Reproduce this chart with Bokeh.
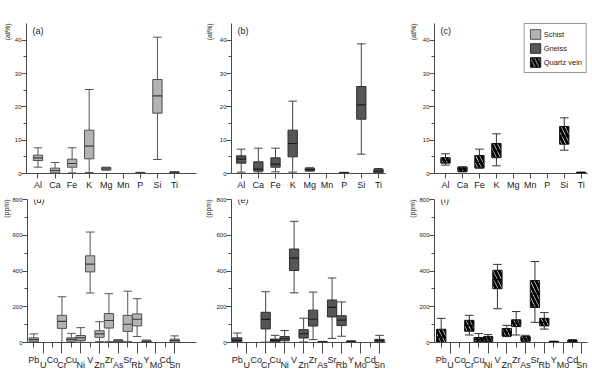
import numpy as np
from bokeh.plotting import figure
from bokeh.layouts import column, row
from bokeh.models import ColumnDataSource, FixedTicker, Label, Legend, LegendItem, Title
from bokeh.embed import file_html
from bokeh.resources import INLINE

nan = np.nan

major_elements = ["Al", "Ca", "Fe", "K", "Mg", "Mn", "P", "Si", "Ti"]
trace_elements = ["Pb", "U", "Co", "Cr", "Cu", "Ni", "V", "Zn", "Zr",
                  "As", "Sr", "Rb", "Y", "Mo", "Cd", "Sn"]

# Major elements (at%): lower whisker, Q1, median, Q3, upper whisker
schist_major_low = [1.9, 0.0, 0.2, 0.3, 1.0, nan, 0.05, 4.2, 0.1]
schist_major_q1 = [3.9, 0.2, 1.9, 4.4, 1.1, nan, 0.1, 18.1, 0.15]
schist_major_med = [4.7, 0.9, 3.0, 8.2, 1.4, nan, 0.2, 23.3, 0.3]
schist_major_q3 = [5.5, 1.6, 4.3, 13.0, 1.8, nan, 0.3, 28.2, 0.5]
schist_major_high = [7.7, 3.3, 7.7, 25.2, 1.9, nan, 0.35, 40.9, 0.6]

gneiss_major_low = [0.4, 0.1, 0.5, 0.4, 0.7, nan, 0.05, 5.8, 0.1]
gneiss_major_q1 = [3.1, 0.7, 1.9, 5.0, 0.8, nan, 0.1, 16.3, 0.2]
gneiss_major_med = [4.3, 1.3, 2.8, 9.0, 1.2, nan, 0.2, 20.6, 0.7]
gneiss_major_q3 = [5.3, 3.5, 4.7, 13.0, 1.6, nan, 0.3, 26.1, 1.3]
gneiss_major_high = [7.3, 7.6, 7.6, 21.7, 1.7, nan, 0.35, 38.9, 1.5]

quartz_major_low = [2.5, 0.5, 1.6, 2.3, nan, nan, nan, 7.0, 0.2]
quartz_major_q1 = [3.1, 0.6, 1.7, 4.75, nan, nan, nan, 8.8, 0.25]
quartz_major_med = [4.0, 1.3, 3.3, 6.8, nan, nan, nan, 11.3, 0.3]
quartz_major_q3 = [4.75, 1.9, 5.4, 9.0, nan, nan, nan, 14.1, 0.35]
quartz_major_high = [5.9, 2.0, 7.3, 11.9, nan, nan, nan, 16.7, 0.4]

# Trace elements (ppm): lower whisker, Q1, median, Q3, upper whisker
schist_trace_low = [1, nan, nan, 0, 0, 2, 277, 5, 5, 1, 5, 33, 0, nan, nan, 0]
schist_trace_q1 = [4, nan, nan, 79, 7, 11, 395, 29, 81, 2, 62, 93, 1, nan, nan, 1]
schist_trace_med = [16, nan, nan, 118, 18, 26, 439, 48, 123, 8, 102, 130, 5, nan, nan, 10]
schist_trace_q3 = [26, nan, nan, 152, 26, 39, 485, 66, 162, 14, 152, 160, 10, nan, nan, 19]
schist_trace_high = [48, nan, nan, 256, 51, 83, 618, 116, 273, 16, 287, 245, 14, nan, nan, 37]

gneiss_trace_low = [0, nan, nan, 2, 0, 0, 278, 3, 16, 0, 23, 35, 0, nan, nan, 0]
gneiss_trace_q1 = [2, nan, nan, 76, 3, 10, 403, 25, 92, 1, 143, 95, 1, nan, nan, 1]
gneiss_trace_med = [12, nan, nan, 129, 12, 21, 472, 49, 130, 3, 197, 125, 4, nan, nan, 10]
gneiss_trace_q3 = [26, nan, nan, 169, 19, 33, 523, 72, 181, 5, 238, 150, 7, nan, nan, 18]
gneiss_trace_high = [53, nan, nan, 284, 40, 67, 678, 136, 282, 6, 361, 227, 10, nan, nan, 40]

quartz_trace_low = [0, nan, nan, 42, 2, 3, 189, 33, 42, 4, 113, 75, 3, nan, 1, nan]
quartz_trace_q1 = [1, nan, nan, 63, 5, 5, 301, 36, 89, 7, 196, 93, 4, nan, 2, nan]
quartz_trace_med = [30, nan, nan, 95, 17, 20, 352, 60, 108, 20, 270, 112, 5, nan, 8, nan]
quartz_trace_q3 = [74, nan, nan, 124, 28, 33, 404, 78, 127, 33, 347, 135, 6, nan, 13, nan]
quartz_trace_high = [135, nan, nan, 152, 50, 44, 437, 96, 173, 40, 453, 167, 7, nan, 16, nan]

FONT = "Liberation Sans"
TEXT = "#222222"
AXIS = "#4a4a4a"

schist_style = dict(fill="#b3b3b3", line="#505050", median="#3a3a3a", whisker="#555555", hatch=None)
gneiss_style = dict(fill="#575757", line="#2e2e2e", median="#1a1a1a", whisker="#444444", hatch=None)
quartz_style = dict(fill="white", line="#111111", median="#000000", whisker="#333333", hatch="\\")

HATCH = dict(hatch_color="black", hatch_weight=3, hatch_scale=8)


def box_panel(cats, stats, style, ylim, yticks, yminor, xlim, box_w,
              size, borders, tag, unit, unit_standoff, stagger):
    w, h = size
    left, right, top, bottom = borders
    p = figure(width=w, height=h, x_range=xlim, y_range=ylim,
               output_backend="svg", toolbar_location=None, tools="",
               min_border_left=left, min_border_right=right,
               min_border_top=top, min_border_bottom=bottom)
    p.outline_line_color = None
    p.grid.visible = False

    x = np.arange(len(cats), dtype=float)
    low, q1, med, q3, high = [np.asarray(v, dtype=float) for v in stats]
    cap = box_w * 0.92
    src = ColumnDataSource(dict(x=x, low=low, q1=q1, med=med, q3=q3, high=high,
                                cl=x - cap / 2, cr=x + cap / 2,
                                bl=x - box_w / 2, br=x + box_w / 2))

    # whisker stems and caps
    p.segment("x", "low", "x", "q1", source=src, line_color=style["whisker"], line_width=1)
    p.segment("x", "q3", "x", "high", source=src, line_color=style["whisker"], line_width=1)
    p.segment("cl", "high", "cr", "high", source=src, line_color=style["whisker"], line_width=1)
    p.segment("cl", "low", "cr", "low", source=src, line_color=style["whisker"], line_width=1)

    # interquartile boxes
    kw = dict(fill_color=style["fill"], line_color=style["line"], line_width=1)
    if style["hatch"]:
        kw.update(hatch_pattern=style["hatch"], **HATCH)
    p.vbar(x="x", bottom="q1", top="q3", width=box_w, source=src, **kw)

    # medians
    p.segment("bl", "med", "br", "med", source=src, line_color=style["median"], line_width=1.2)

    # y axis
    ya = p.yaxis[0]
    ya.ticker = FixedTicker(ticks=yticks, minor_ticks=yminor)
    ya.axis_line_color = AXIS
    ya.major_tick_line_color = AXIS
    ya.minor_tick_line_color = AXIS
    ya.major_tick_out = 5
    ya.major_tick_in = 0
    ya.minor_tick_out = 3
    ya.minor_tick_in = 0
    ya.major_label_standoff = 0
    ya.major_label_text_font = FONT
    ya.major_label_text_font_size = "6px"
    ya.major_label_text_color = TEXT

    # unit title, vertical, flush with the top end of the y axis
    p.add_layout(Title(text=unit, align="right", standoff=unit_standoff,
                       text_font=FONT, text_font_size="7px", text_font_style="normal",
                       text_color=TEXT), "left")

    # x axis with element names
    xa = p.xaxis[0]
    odd = list(range(1, len(cats), 2)) if stagger else []
    xa.ticker = FixedTicker(ticks=list(range(len(cats))), minor_ticks=odd)
    xa.major_label_overrides = {
        i: (("\n" + c) if (stagger and i % 2) else c) for i, c in enumerate(cats)
    }
    xa.axis_line_color = AXIS
    xa.major_tick_line_color = AXIS
    xa.minor_tick_line_color = AXIS
    xa.major_tick_out = 5
    xa.major_tick_in = 0
    xa.minor_tick_out = 11 if stagger else 0
    xa.minor_tick_in = 0
    xa.major_label_standoff = 1
    xa.major_label_text_font = FONT
    xa.major_label_text_font_size = "9px"
    xa.major_label_text_color = TEXT
    xa.major_label_text_line_height = 0.5

    # panel tag
    p.add_layout(Label(x=6, y=143, x_units="screen", y_units="screen", text=tag,
                       text_font=FONT, text_font_size="9px", text_color=TEXT,
                       text_baseline="middle", text_align="left"))
    return p


major_ticks = [0, 10, 20, 30, 40]
major_minor = [5, 15, 25, 35]
trace_ticks = [0, 200, 400, 600, 800]
trace_minor = [100, 300, 500, 700]

pa = box_panel(major_elements,
               [schist_major_low, schist_major_q1, schist_major_med, schist_major_q3, schist_major_high],
               schist_style, (0, 45), major_ticks, major_minor, (-0.674, 9.29), 9.3 / 17.06,
               (200, 192), (26, 4, 23, 18), "(a)", "(at%)", 2, False)
pb = box_panel(major_elements,
               [gneiss_major_low, gneiss_major_q1, gneiss_major_med, gneiss_major_q3, gneiss_major_high],
               gneiss_style, (0, 45), major_ticks, major_minor, (-0.565, 8.41), 9.3 / 17.16,
               (205, 192), (31, 20, 23, 18), "(b)", "(at%)", 7, False)
pc = box_panel(major_elements,
               [quartz_major_low, quartz_major_q1, quartz_major_med, quartz_major_q3, quartz_major_high],
               quartz_style, (0, 45), major_ticks, major_minor, (-0.649, 8.37), 9.3 / 16.96,
               (187, 192), (29, 5, 23, 18), "(c)", "(at%)", 5, False)

pd_ = box_panel(trace_elements,
                [schist_trace_low, schist_trace_q1, schist_trace_med, schist_trace_q3, schist_trace_high],
                schist_style, (0, 800), trace_ticks, trace_minor, (-0.667, 17.32), 9.3 / 9.45,
                (200, 180), (26, 4, 7, 22), "(d)", "(ppm)", 0, True)
pe = box_panel(trace_elements,
               [gneiss_trace_low, gneiss_trace_q1, gneiss_trace_med, gneiss_trace_q3, gneiss_trace_high],
               gneiss_style, (0, 800), trace_ticks, trace_minor, (-0.6, 15.63), 9.3 / 9.49,
               (205, 180), (31, 20, 7, 22), "(e)", "(ppm)", 4, True)
pf = box_panel(trace_elements,
               [quartz_trace_low, quartz_trace_q1, quartz_trace_med, quartz_trace_q3, quartz_trace_high],
               quartz_style, (0, 800), trace_ticks, trace_minor, (-0.715, 15.61), 9.3 / 9.37,
               (187, 180), (29, 5, 7, 22), "(f)", "(ppm)", 2, True)

# legend keys for the three rock types (single empty rows, nothing drawn in the frame)
keys = []
for name, st in [("Schist", schist_style), ("Gneiss", gneiss_style), ("Quartz vein", quartz_style)]:
    kw = dict(fill_color=st["fill"], line_color=st["line"], line_width=1)
    if st["hatch"]:
        kw.update(hatch_pattern=st["hatch"], **HATCH)
    r = pc.vbar(x=[nan], top=[nan], bottom=[nan], width=0.5, **kw)
    keys.append(LegendItem(label=name, renderers=[r]))

legend = Legend(items=keys, location="top_right", margin=0, padding=4, spacing=2,
                label_height=12, glyph_height=12, glyph_width=13, label_standoff=2,
                label_text_font=FONT, label_text_font_size="7.5px", label_text_color=TEXT,
                border_line_color="#333333", border_line_width=1,
                background_fill_color="white", background_fill_alpha=1)
pc.add_layout(legend)

layout = column(row(pa, pb, pc), row(pd_, pe, pf))

open("out.html", "w").write(file_html(layout, INLINE))
